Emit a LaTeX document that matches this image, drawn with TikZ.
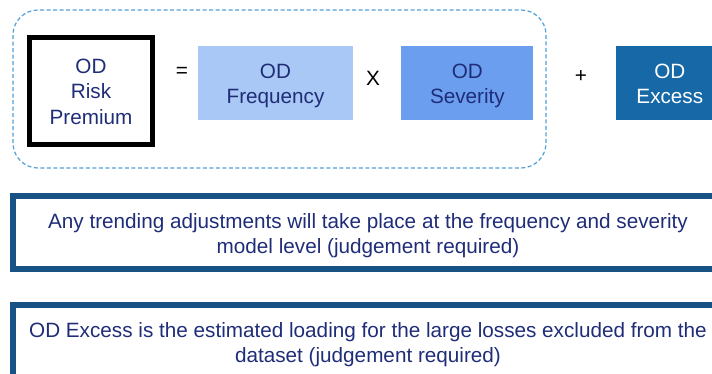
\documentclass[tikz,border=0pt]{standalone}
\usepackage{fontspec}
\setmainfont{Liberation Sans}
\usetikzlibrary{positioning}

\definecolor{odnavy}{RGB}{31,45,120}
\definecolor{odfreq}{RGB}{170,200,245}
\definecolor{odsev}{RGB}{108,158,240}
\definecolor{odexc}{RGB}{22,104,166}
\definecolor{odline}{RGB}{24,82,132}
\definecolor{oddash}{RGB}{80,160,215}

\tikzset{
  odfont/.style={font=\fontsize{20.7}{25.5}\selectfont},
  rpbox/.style={odfont, draw=black, line width=5pt, text=odnavy, align=center,
    minimum width=123pt, minimum height=107pt, inner sep=0pt, text height=66pt, text depth=0pt},
  termbox/.style={odfont, align=center, minimum height=74pt, inner sep=0pt, text=odnavy,
    text height=41.5pt, text depth=0pt},
  opsign/.style={odfont, inner sep=0pt},
  notebox/.style={odfont, draw=odline, line width=6pt, text=odnavy, align=center,
    minimum width=710pt, minimum height=73pt, inner sep=0pt, text height=42pt, text depth=0pt},
}

\begin{document}
\begin{tikzpicture}[x=1pt, y=-1pt]
  \useasboundingbox (0,0) rectangle (712,373);
  \clip (0,0) rectangle (712,373);

  % formula row
  \draw [oddash, line width=1.2pt, dash pattern=on 4pt off 2.5pt, rounded corners=25pt]
    (13,10) rectangle (546,168);
  \node [rpbox] (rp) at (91,91) {OD\\Risk\\Premium};
  \node [termbox, fill=odfreq, minimum width=155pt] (freq) at (275.5,83) {OD\\Frequency};
  \node [termbox, fill=odsev, minimum width=132pt, right=48pt of freq] (sev) {OD\\Severity};
  \node [termbox, fill=odexc, text=white, minimum width=108pt, right=82pt of sev] (exc) {OD\\Excess};
  \node [opsign] (eq) at (182,72) {=};
  \node [opsign] (times) at (373,78) {X};
  \node [opsign] (plus) at (581,77) {+};

  % notes
  \node [notebox] (trend) at (368,232.5)
    {Any trending adjustments will take place at the frequency and severity\\model level (judgement required)};
  \node [notebox, below=30pt of trend] (excess)
    {OD Excess is the estimated loading for the large losses excluded from the\\dataset (judgement required)};
\end{tikzpicture}
\end{document}
